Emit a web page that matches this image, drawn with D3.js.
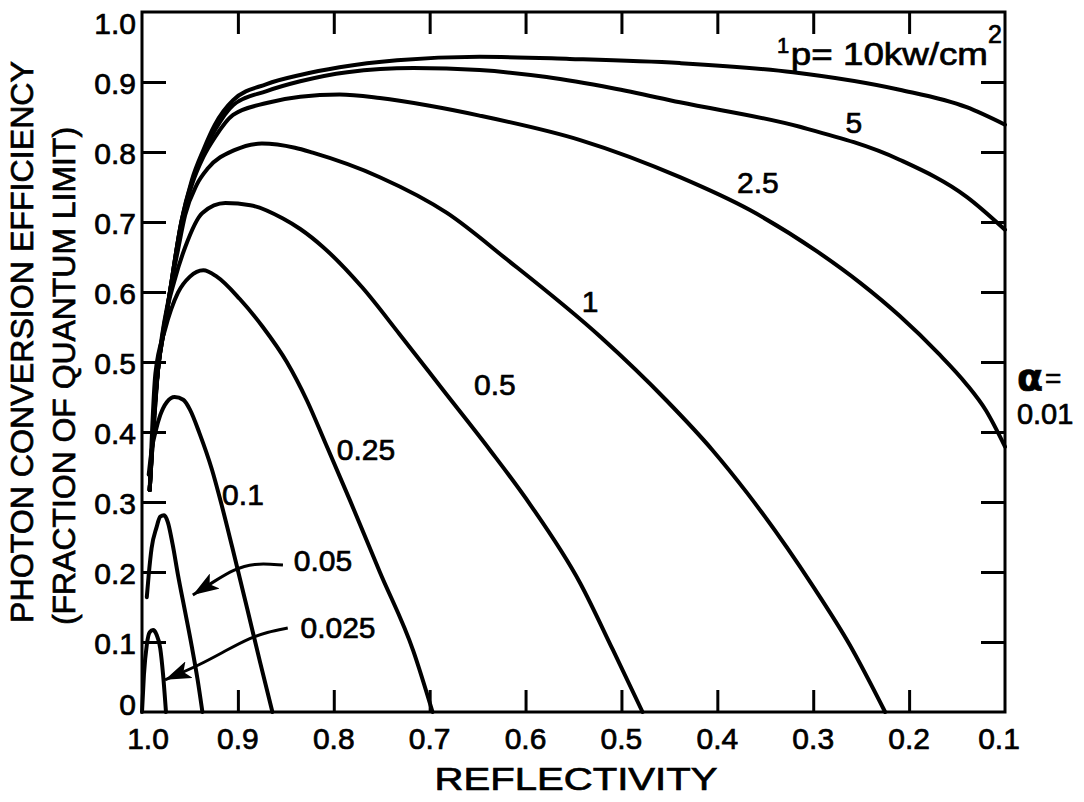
<!DOCTYPE html>
<html><head><meta charset="utf-8">
<script src="https://cdn.jsdelivr.net/npm/d3@7"></script>
<style>
html,body{margin:0;padding:0;background:#fff;}
text{font-family:"Liberation Sans",Arial,Helvetica,sans-serif;fill:#000;stroke:#000;stroke-width:0.7px;}
</style>
</head><body>
<svg id="chart" width="1084" height="802"></svg>
<script>
// ---------- data ----------
const xTickValues = [1.0,0.9,0.8,0.7,0.6,0.5,0.4,0.3,0.2,0.1];
const xTickLabels = ["1.0","0.9","0.8","0.7","0.6","0.5","0.4","0.3","0.2","0.1"];
const yTickValues = [0,0.1,0.2,0.3,0.4,0.5,0.6,0.7,0.8,0.9,1.0];
const yTickLabels = ["0","0.1","0.2","0.3","0.4","0.5","0.6","0.7","0.8","0.9","1.0"];

// [reflectivity, efficiency] for each alpha curve
const curve10 = [[0.992,0.317],[0.9885,0.403],[0.983,0.493],[0.977,0.546],[0.971,0.599],[0.959,0.700],[0.948,0.760],[0.936,0.803],[0.924,0.839],[0.905,0.874],[0.870,0.897],[0.835,0.910],[0.794,0.921],[0.734,0.931],[0.648,0.936],[0.554,0.933],[0.439,0.927],[0.321,0.914],[0.210,0.889],[0.140,0.864],[0.100,0.839]];
const curve5 = [[0.992,0.317],[0.9885,0.403],[0.983,0.493],[0.977,0.546],[0.971,0.599],[0.959,0.700],[0.948,0.757],[0.936,0.799],[0.924,0.831],[0.905,0.867],[0.870,0.887],[0.835,0.901],[0.786,0.914],[0.717,0.920],[0.648,0.917],[0.578,0.907],[0.509,0.891],[0.439,0.871],[0.314,0.836],[0.210,0.789],[0.140,0.736],[0.100,0.689]];
const curve2_5 = [[0.992,0.317],[0.9885,0.403],[0.983,0.493],[0.977,0.546],[0.971,0.599],[0.959,0.698],[0.948,0.753],[0.936,0.793],[0.924,0.821],[0.905,0.853],[0.870,0.870],[0.835,0.879],[0.794,0.882],[0.752,0.877],[0.700,0.866],[0.648,0.852],[0.543,0.817],[0.439,0.764],[0.366,0.717],[0.296,0.658],[0.250,0.612],[0.210,0.566],[0.170,0.513],[0.140,0.468],[0.120,0.431],[0.100,0.379]];
const curve1 = [[0.992,0.317],[0.983,0.493],[0.971,0.599],[0.9625,0.660],[0.955,0.710],[0.943,0.753],[0.931,0.777],[0.903,0.803],[0.875,0.812],[0.8405,0.806],[0.822,0.799],[0.752,0.764],[0.682,0.713],[0.619,0.646],[0.522,0.536],[0.453,0.445],[0.405,0.374],[0.369,0.313],[0.300,0.179],[0.262,0.096],[0.225,0.0]];
const curve0_5 = [[0.992,0.317],[0.983,0.493],[0.976,0.560],[0.966,0.617],[0.955,0.664],[0.937,0.713],[0.913,0.727],[0.887,0.724],[0.853,0.705],[0.835,0.690],[0.811,0.664],[0.770,0.606],[0.731,0.539],[0.686,0.460],[0.637,0.374],[0.595,0.296],[0.543,0.184],[0.509,0.089],[0.478,0.0]];
const curve0_25 = [[0.992,0.317],[0.986,0.484],[0.976,0.546],[0.9625,0.599],[0.950,0.622],[0.936,0.631],[0.922,0.622],[0.898,0.590],[0.874,0.550],[0.849,0.500],[0.828,0.445],[0.809,0.385],[0.783,0.302],[0.752,0.200],[0.717,0.087],[0.697,0.0]];
const curve0_1 = [[0.993,0.339],[0.990,0.374],[0.986,0.400],[0.981,0.424],[0.974,0.443],[0.966,0.450],[0.957,0.446],[0.950,0.432],[0.940,0.398],[0.927,0.346],[0.917,0.296],[0.906,0.236],[0.890,0.146],[0.877,0.072],[0.864,0.0]];
const curve0_05 = [[0.995,0.164],[0.993,0.196],[0.990,0.234],[0.985,0.263],[0.981,0.279],[0.977,0.281],[0.973,0.271],[0.968,0.239],[0.9625,0.196],[0.955,0.143],[0.948,0.093],[0.942,0.046],[0.937,0.0]];
const curve0_025 = [[1.0,0.0],[0.998,0.053],[0.995,0.096],[0.992,0.114],[0.9885,0.117],[0.985,0.111],[0.981,0.091],[0.978,0.053],[0.975,0.0]];

const curves = [curve10, curve5, curve2_5, curve1, curve0_5, curve0_25, curve0_1, curve0_05, curve0_025];

// curve labels: text and anchor (reflectivity, efficiency)
const labelTexts = ["5","2.5","1","0.5","0.25","0.1","0.05","0.025"];
const labelAnchors = [[0.2576,0.827],[0.3577,0.741],[0.5328,0.571],[0.6319,0.453],[0.7664,0.360],[0.8947,0.296],[0.8113,0.201],[0.7956,0.106]];

// arrows for 0.05 and 0.025 labels
const arrow0_05 = [[0.853,0.210],[0.884,0.213],[0.905,0.203],[0.922,0.189],[0.947,0.167]];
const arrow0_025 = [[0.848,0.120],[0.870,0.114],[0.887,0.106],[0.911,0.089],[0.940,0.067],[0.976,0.046]];

// ---------- layout ----------
const svg = d3.select("#chart");
const L = 142, R = 1005, T = 12, B = 712;
const x = d3.scaleLinear().domain([1.0, 0.1]).range([L, R]);
const y = d3.scaleLinear().domain([0, 1.0]).range([B, T]);

const defs = svg.append("defs");
defs.append("marker").attr("id","arrowhead")
  .attr("markerUnits","userSpaceOnUse")
  .attr("markerWidth",28).attr("markerHeight",18)
  .attr("refX",26).attr("refY",9).attr("orient","auto")
  .append("path").attr("d","M0,0 L26,9 L0,18 L6,9 Z").attr("fill","#000");

// frame
svg.append("rect").attr("x",L).attr("y",T).attr("width",R-L).attr("height",B-T)
  .attr("fill","none").attr("stroke","#000").attr("stroke-width",3);

const tickLen = 22;
const innerX = xTickValues.filter(v => v < 0.99 && v > 0.11);
const innerY = yTickValues.filter(v => v > 0.01 && v < 0.99);

const gB = svg.append("g").attr("transform",`translate(0,${B})`)
  .call(d3.axisBottom(x).tickValues(innerX).tickSize(-tickLen).tickFormat(""));
const gT = svg.append("g").attr("transform",`translate(0,${T})`)
  .call(d3.axisTop(x).tickValues(innerX).tickSize(-tickLen).tickFormat(""));
const gL = svg.append("g").attr("transform",`translate(${L},0)`)
  .call(d3.axisLeft(y).tickValues(innerY).tickSize(-tickLen-2).tickFormat(""));
const gR = svg.append("g").attr("transform",`translate(${R},0)`)
  .call(d3.axisRight(y).tickValues(innerY).tickSize(-tickLen-2).tickFormat(""));
[gB,gT,gL,gR].forEach(g => {
  g.select(".domain").remove();
  g.selectAll(".tick line").attr("stroke","#000").attr("stroke-width",3);
});

// tick labels
svg.append("g").selectAll("text").data(xTickValues).join("text")
  .attr("x", (d,i) => x(d) + (i===0 ? 6 : (i===xTickValues.length-1 ? -6 : 0)))
  .attr("y", 749)
  .attr("text-anchor","middle").attr("font-size",30)
  .text((d,i) => xTickLabels[i]);

svg.append("g").selectAll("text").data(yTickValues).join("text")
  .attr("x", 136)
  .attr("y", (d) => y(d) + (d >= 0.99 ? 22 : (d <= 0.01 ? 3 : 12)))
  .attr("text-anchor","end").attr("font-size",30)
  .text((d,i) => yTickLabels[i]);

// curves
const line = d3.line().x(d => x(d[0])).y(d => y(d[1])).curve(d3.curveMonotoneX);
svg.append("g").selectAll("path").data(curves).join("path")
  .attr("d", line).attr("fill","none").attr("stroke","#000")
  .attr("stroke-width",4).attr("stroke-linejoin","round").attr("stroke-linecap","round");

// arrows
const aline = d3.line().x(d => x(d[0])).y(d => y(d[1])).curve(d3.curveBasis);
svg.append("g").selectAll("path").data([arrow0_05, arrow0_025]).join("path")
  .attr("d", aline).attr("fill","none").attr("stroke","#000").attr("stroke-width",3)
  .attr("marker-end","url(#arrowhead)");

// curve labels
svg.append("g").selectAll("text").data(labelTexts).join("text")
  .attr("x",(d,i) => x(labelAnchors[i][0]))
  .attr("y",(d,i) => y(labelAnchors[i][1]))
  .attr("text-anchor","middle").attr("font-size",30)
  .text(d => d);

// intensity label "1p= 10kw/cm2"
const topLabel = svg.append("text");
topLabel.append("tspan").attr("x", x(0.3378)).attr("y", y(0.941)).attr("font-size",22).text("1");
topLabel.append("tspan").attr("x", x(0.3233)).attr("y", y(0.924)).attr("font-size",31)
  .attr("textLength",197).attr("lengthAdjust","spacingAndGlyphs").text("p= 10kw/cm");
topLabel.append("tspan").attr("x", x(0.1178)).attr("y", y(0.956)).attr("font-size",25).text("2");

// alpha = 0.01
const alphaLabel = svg.append("text").attr("x", x(0.0876)).attr("y", y(0.460));
alphaLabel.append("tspan").attr("font-size",38).attr("font-family","DejaVu Sans").attr("font-weight","bold").text("α");
alphaLabel.append("tspan").attr("font-size",28).attr("dx",2).attr("dy",-2).text("=");
svg.append("text").attr("x", x(0.0876)).attr("y", y(0.411)).attr("font-size",29).text("0.01");

// axis titles
svg.append("text").attr("x", 576).attr("y", 790).attr("text-anchor","middle")
  .attr("font-size",32).attr("textLength",283).attr("lengthAdjust","spacingAndGlyphs")
  .text("REFLECTIVITY");
svg.append("text").attr("transform","translate(33,623) rotate(-90)")
  .attr("font-size",32).attr("textLength",562).attr("lengthAdjust","spacingAndGlyphs")
  .text("PHOTON CONVERSION EFFICIENCY");
svg.append("text").attr("transform","translate(75,625) rotate(-90)")
  .attr("font-size",32).attr("textLength",498).attr("lengthAdjust","spacingAndGlyphs")
  .text("(FRACTION OF QUANTUM LIMIT)");
</script>
</body></html>
